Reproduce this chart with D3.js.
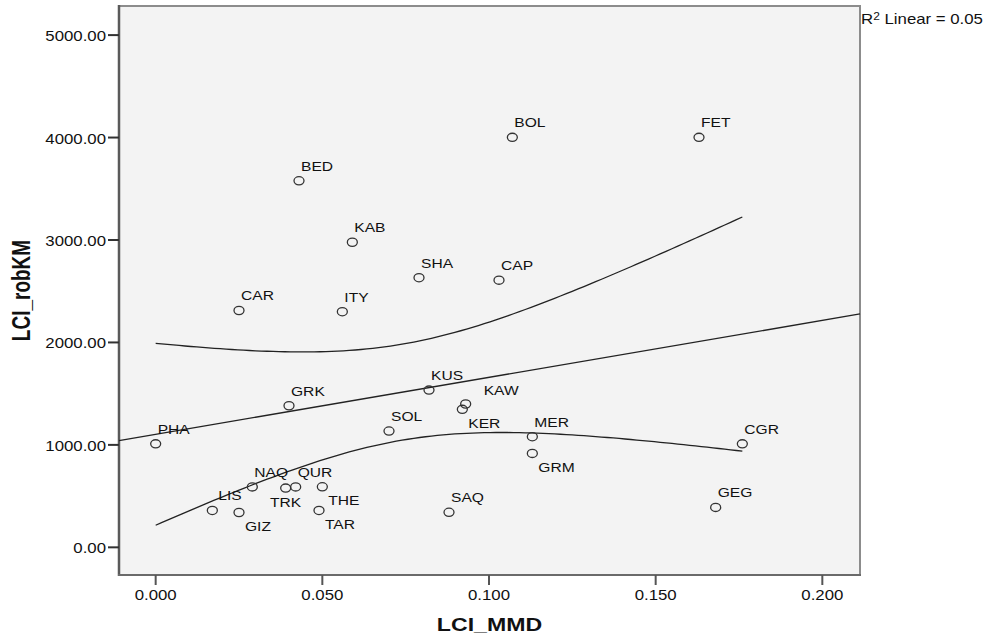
<!DOCTYPE html>
<html>
<head>
<meta charset="utf-8">
<script src="https://cdn.jsdelivr.net/npm/d3@7"></script>
<style>
  html, body { margin: 0; padding: 0; background: #fff; }
  text { font-family: "Liberation Sans", Arial, sans-serif; fill: #111; }
</style>
</head>
<body>
<div id="chart"></div>
<script>
// --- data ---
const codes = ["PHA", "LIS", "GIZ", "NAQ", "TRK", "QUR", "THE", "TAR", "BED", "CAR",
  "ITY", "KAB", "SHA", "CAP", "BOL", "FET", "GRK", "KUS", "KAW", "KER",
  "SOL", "MER", "GRM", "CGR", "GEG", "SAQ"];
const lciMMD = [0.000, 0.017, 0.025, 0.029, 0.039, 0.042, 0.050, 0.049, 0.043, 0.025,
  0.056, 0.059, 0.079, 0.103, 0.107, 0.163, 0.040, 0.082, 0.093, 0.092,
  0.070, 0.113, 0.113, 0.176, 0.168, 0.088];
const lciRobKM = [1010, 360, 340, 590, 578, 590, 591, 360, 3578, 2312,
  2300, 2978, 2632, 2608, 4002, 4002, 1382, 1535, 1399, 1347,
  1135, 1080, 917, 1010, 390, 342];
const xTicks = [0, 0.05, 0.10, 0.15, 0.20];
const yTicks = [0, 1000, 2000, 3000, 4000, 5000];

// where each label sits relative to its marker (default: above right)
const labelPlacement = { GIZ: "below", THE: "below", TAR: "below", KER: "below", GRM: "below",
  TRK: "belowCenter", KAW: "farRight", LIS: "right" };
const placementOffset = {
  above: [2, -10, "start"], below: [6, 18.5, "start"], belowCenter: [0, 19, "middle"],
  farRight: [18, -9, "start"], right: [6, -10.5, "start"]
};

const W = 990, H = 636;
const plot = { left: 119, right: 860, top: 6, bottom: 575 };
const stretch = 1.2; // the reference renders text a little wide

const svg = d3.select("#chart").append("svg")
  .attr("width", W)
  .attr("height", H);

const x = d3.scaleLinear().domain([-0.011, 0.2113]).range([plot.left, plot.right]);
const y = d3.scaleLinear().domain([-270, 5284]).range([plot.bottom, plot.top]);

function addText(parent, px, py, str, opts = {}) {
  const g = parent.append("g")
    .attr("transform", `translate(${px},${py}) scale(${opts.sx || stretch},${opts.sy || 1})`);
  const t = g.append("text")
    .attr("x", 0).attr("y", 0)
    .attr("text-anchor", opts.anchor || "start")
    .style("font-size", (opts.size || 14) + "px")
    .style("font-weight", opts.weight || "normal")
    .text(str);
  return t;
}

// plot background + frame
svg.append("rect")
  .attr("x", plot.left).attr("y", plot.top)
  .attr("width", plot.right - plot.left).attr("height", plot.bottom - plot.top)
  .attr("fill", "#f3f3f3")
  .attr("stroke", "#8c8c8c")
  .attr("stroke-width", 2);

// axis lines (darker on left and bottom)
svg.append("line")
  .attr("x1", plot.left).attr("x2", plot.left)
  .attr("y1", plot.top - 1).attr("y2", plot.bottom + 1)
  .attr("stroke", "#5a5a5a").attr("stroke-width", 2.5);
svg.append("line")
  .attr("x1", plot.left - 1).attr("x2", plot.right + 1)
  .attr("y1", plot.bottom).attr("y2", plot.bottom)
  .attr("stroke", "#6a6a6a").attr("stroke-width", 2);

// y ticks
yTicks.forEach(v => {
  svg.append("line")
    .attr("x1", plot.left - 11).attr("x2", plot.left)
    .attr("y1", y(v)).attr("y2", y(v))
    .attr("stroke", "#333").attr("stroke-width", 2);
  addText(svg, plot.left - 13, y(v) + 6, d3.format(".2f")(v), { anchor: "end", size: 14 });
});

// x ticks
xTicks.forEach(v => {
  svg.append("line")
    .attr("x1", x(v)).attr("x2", x(v))
    .attr("y1", plot.bottom).attr("y2", plot.bottom + 10)
    .attr("stroke", "#555").attr("stroke-width", 2);
  addText(svg, x(v), 600, d3.format(".3f")(v), { anchor: "middle", size: 14 });
});

// axis titles
addText(svg, (plot.left + plot.right) / 2, 631, "LCI_MMD",
  { anchor: "middle", size: 18.5, weight: "bold", sx: 1.25 });
svg.append("g")
  .attr("transform", `translate(29.5,${(plot.top + plot.bottom) / 2}) rotate(-90) scale(1,1.35)`)
  .append("text")
  .attr("text-anchor", "middle")
  .style("font-size", "19px")
  .style("font-weight", "bold")
  .text("LCI_robKM");

// --- linear fit and 95% mean confidence band ---
const n = lciMMD.length;
const mx = d3.mean(lciMMD), my = d3.mean(lciRobKM);
let sxx = 0, sxy = 0, syy = 0;
for (let i = 0; i < n; i++) {
  const dx = lciMMD[i] - mx, dy = lciRobKM[i] - my;
  sxx += dx * dx; sxy += dx * dy; syy += dy * dy;
}
const slope = sxy / sxx;
const intercept = my - slope * mx;
const r2 = (sxy * sxy) / (sxx * syy);
const se = Math.sqrt((syy - slope * sxy) / (n - 2));
const tCrit = 2.0639; // t(0.975, df = 24)
const fit = v => intercept + slope * v;
const half = v => tCrit * se * Math.sqrt(1 / n + (v - mx) * (v - mx) / sxx);

const [xmin, xmax] = d3.extent(lciMMD);
const bandX = d3.range(0, 101).map(i => xmin + (xmax - xmin) * i / 100);

const line = d3.line().x(d => x(d[0])).y(d => y(d[1]));

svg.append("path")
  .datum(x.domain().map(v => [v, fit(v)]))
  .attr("fill", "none").attr("stroke", "#222").attr("stroke-width", 1.3)
  .attr("d", line);
svg.append("path")
  .datum(bandX.map(v => [v, fit(v) + half(v)]))
  .attr("fill", "none").attr("stroke", "#222").attr("stroke-width", 1.3)
  .attr("d", line);
svg.append("path")
  .datum(bandX.map(v => [v, fit(v) - half(v)]))
  .attr("fill", "none").attr("stroke", "#222").attr("stroke-width", 1.3)
  .attr("d", line);

// markers
svg.selectAll("ellipse.dot")
  .data(codes)
  .enter()
  .append("ellipse")
  .attr("class", "dot")
  .attr("cx", (d, i) => x(lciMMD[i]))
  .attr("cy", (d, i) => y(lciRobKM[i]))
  .attr("rx", 5)
  .attr("ry", 4.1)
  .attr("fill", "none")
  .attr("stroke", "#333")
  .attr("stroke-width", 1.3);

// labels
codes.forEach((c, i) => {
  const off = placementOffset[labelPlacement[c] || "above"];
  addText(svg, x(lciMMD[i]) + off[0], y(lciRobKM[i]) + off[1], c, { anchor: off[2], size: 13 });
});

// R squared note
const r2Text = addText(svg, 861, 24, "R", { size: 14 });
r2Text.append("tspan").attr("dy", -4).style("font-size", "10px").text("2");
r2Text.append("tspan").attr("dy", 4).text(" Linear = " + d3.format(".2f")(r2));
</script>
</body>
</html>
